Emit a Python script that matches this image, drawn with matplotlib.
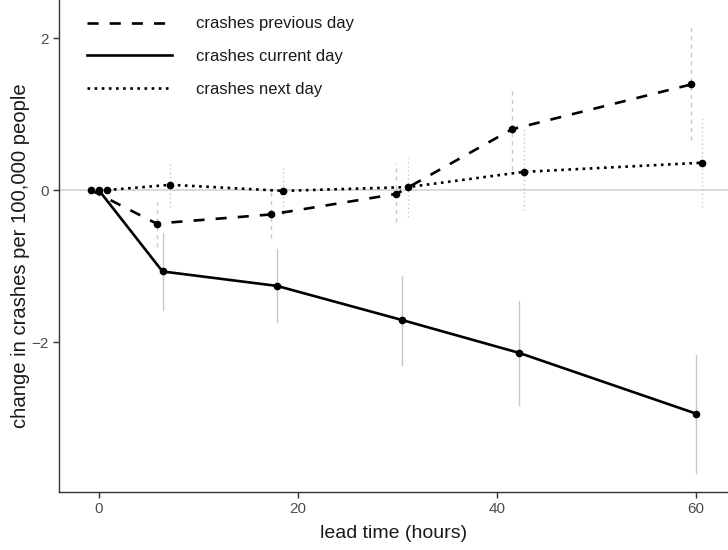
import numpy as np
import matplotlib
matplotlib.use("Agg")
import matplotlib.pyplot as plt

plt.rcParams["font.family"] = ["Liberation Sans", "DejaVu Sans"]

# lead times (hours), slightly dodged per series
lead_prev = [-0.8, 5.8, 17.3, 29.9, 41.5, 59.5]
lead_curr = [0.0, 6.4, 17.9, 30.5, 42.2, 60.0]
lead_next = [0.8, 7.2, 18.5, 31.1, 42.7, 60.6]

# change in crashes per 100,000 people, with lower / upper bounds
prev_est = [0.0, -0.44, -0.32, -0.05, 0.80, 1.39]
prev_lo = [0.0, -0.75, -0.63, -0.42, 0.26, 0.66]
prev_hi = [0.0, -0.15, 0.00, 0.35, 1.34, 2.17]

curr_est = [0.0, -1.07, -1.26, -1.71, -2.14, -2.94]
curr_lo = [0.0, -1.58, -1.74, -2.30, -2.82, -3.72]
curr_hi = [0.0, -0.57, -0.78, -1.13, -1.46, -2.17]

next_est = [0.0, 0.07, -0.01, 0.04, 0.24, 0.36]
next_lo = [0.0, -0.22, -0.33, -0.35, -0.26, -0.22]
next_hi = [0.0, 0.37, 0.29, 0.42, 0.81, 0.96]

# (label, x, estimate, lower, upper, line style, interval style)
series = [
    ("crashes previous day", lead_prev, prev_est, prev_lo, prev_hi,
     (0, (4.2, 4.2)), (0, (3, 3))),
    ("crashes current day", lead_curr, curr_est, curr_lo, curr_hi,
     "-", "-"),
    ("crashes next day", lead_next, next_est, next_lo, next_hi,
     (0, (1, 1.7)), (0, (1, 2))),
]

fig = plt.figure(figsize=(7.28, 5.5), dpi=100)
ax = fig.add_axes([0.081, 0.1055, 0.919, 0.8945])

ax.axhline(0, color="#cfcfcf", lw=1.1, zorder=1)

for label, x, est, lo, hi, ls, ci_ls in series:
    for xi, l, h in zip(x, lo, hi):
        if h - l > 0:
            ax.plot([xi, xi], [l, h], color="#c8c8c8", lw=1.0,
                    linestyle=ci_ls, zorder=2)
    ax.plot(x, est, color="black", lw=1.9, linestyle=ls, label=label, zorder=3)
    ax.plot(x, est, "o", color="black", ms=4.5, zorder=4)

ax.set_xlim(-4.0, 63.2)
ax.set_ylim(-3.97, 2.5)
ax.set_xticks([0, 20, 40, 60])
ax.set_yticks([-2, 0, 2])

for side in ["top", "right"]:
    ax.spines[side].set_visible(False)
for side in ["left", "bottom"]:
    ax.spines[side].set_color("#333333")
    ax.spines[side].set_linewidth(1.0)
ax.tick_params(colors="#333333", labelcolor="#4d4d4d", labelsize=11,
               length=4, width=1.0)

ax.set_xlabel("lead time (hours)", fontsize=14, color="#1a1a1a", labelpad=6)
ax.set_ylabel("change in crashes per 100,000 people", fontsize=14.6,
              color="#1a1a1a")
ax.yaxis.set_label_coords(-0.043, 0.48)

leg = ax.legend(loc="upper left", bbox_to_anchor=(0.02, 0.997), frameon=False,
                handlelength=5.1, handletextpad=1.4, labelspacing=1.07,
                fontsize=12)
for t in leg.get_texts():
    t.set_color("#1a1a1a")

fig.savefig("out.png", dpi=100)
